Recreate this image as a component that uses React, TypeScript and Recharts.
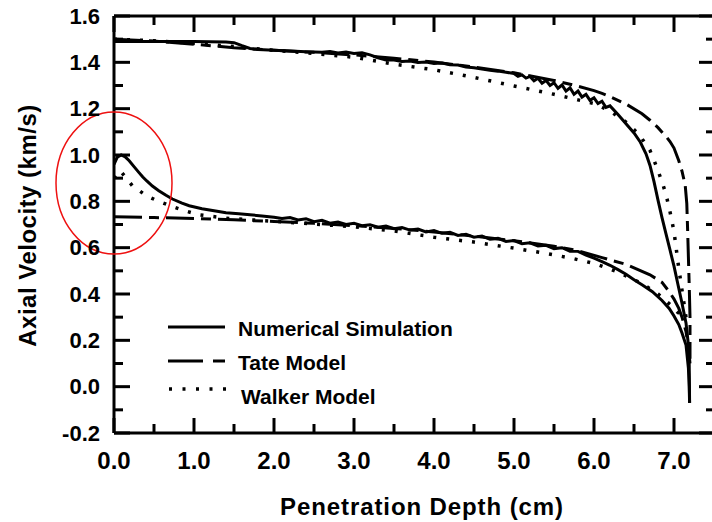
import React from 'react';
import { LineChart, Line, XAxis, YAxis, Legend, ReferenceDot, ReferenceLine } from 'recharts';

const FONT = '"Liberation Sans", Arial, Helvetica, sans-serif';

// ---- data: [penetration depth (cm), axial velocity (km/s)] ----
const simUpper: [number, number][] = [
  [0, 1.49], [0.5, 1.49], [1.0, 1.49], [1.4, 1.488], [1.5, 1.485], [1.6, 1.472], [1.7, 1.46], [1.8, 1.455],
  [2.0, 1.452], [2.2, 1.449], [2.4, 1.446], [2.6, 1.444], [2.7, 1.447], [2.8, 1.44], [2.9, 1.444], [3.0, 1.438],
  [3.1, 1.441], [3.2, 1.432], [3.3, 1.42], [3.4, 1.41], [3.5, 1.41], [3.6, 1.404], [3.7, 1.406], [3.8, 1.399],
  [3.9, 1.401], [4.0, 1.395], [4.1, 1.397], [4.2, 1.39], [4.3, 1.388], [4.4, 1.38], [4.5, 1.377], [4.6, 1.371],
  [4.7, 1.366], [4.8, 1.362], [4.9, 1.357], [5.0, 1.352], [5.05, 1.34], [5.1, 1.346], [5.15, 1.332], [5.2, 1.339],
  [5.25, 1.32], [5.3, 1.331], [5.35, 1.31], [5.4, 1.322], [5.45, 1.3], [5.5, 1.312], [5.55, 1.288], [5.6, 1.302],
  [5.65, 1.276], [5.7, 1.29], [5.75, 1.262], [5.8, 1.276], [5.85, 1.25], [5.9, 1.262], [5.95, 1.236], [6.0, 1.247],
  [6.05, 1.222], [6.1, 1.232], [6.15, 1.205], [6.2, 1.212], [6.3, 1.175], [6.4, 1.135], [6.5, 1.095], [6.58, 1.055],
  [6.65, 1.005], [6.7, 0.955], [6.75, 0.885], [6.8, 0.805], [6.85, 0.73], [6.9, 0.66], [6.95, 0.59], [7.0, 0.52],
  [7.05, 0.44], [7.1, 0.36], [7.15, 0.275], [7.18, 0.18], [7.19, 0.1], [7.195, -0.07],
];

const simLower: [number, number][] = [
  [0, 0.96], [0.04, 0.99], [0.09, 1.0], [0.14, 0.992], [0.19, 0.975], [0.25, 0.95], [0.31, 0.925], [0.36, 0.905],
  [0.41, 0.888], [0.48, 0.866], [0.56, 0.846], [0.65, 0.826], [0.73, 0.81], [0.85, 0.792], [0.94, 0.781], [1.1, 0.768],
  [1.27, 0.758], [1.4, 0.751], [1.56, 0.746], [1.7, 0.742], [1.85, 0.737], [2.0, 0.731], [2.1, 0.726], [2.2, 0.73],
  [2.3, 0.72], [2.4, 0.725], [2.5, 0.712], [2.6, 0.718], [2.7, 0.706], [2.8, 0.711], [2.9, 0.7], [3.0, 0.705],
  [3.1, 0.695], [3.2, 0.699], [3.3, 0.688], [3.4, 0.693], [3.5, 0.682], [3.6, 0.687], [3.7, 0.676], [3.8, 0.68],
  [3.9, 0.668], [4.0, 0.674], [4.1, 0.662], [4.2, 0.666], [4.3, 0.653], [4.4, 0.658], [4.5, 0.645], [4.6, 0.65],
  [4.7, 0.636], [4.8, 0.64], [4.9, 0.627], [5.0, 0.631], [5.1, 0.617], [5.2, 0.621], [5.3, 0.607], [5.4, 0.61],
  [5.5, 0.596], [5.6, 0.6], [5.7, 0.585], [5.8, 0.584], [5.9, 0.568], [6.0, 0.555], [6.1, 0.54], [6.2, 0.524],
  [6.3, 0.505], [6.4, 0.485], [6.5, 0.462], [6.6, 0.44], [6.73, 0.41], [6.85, 0.372], [6.94, 0.338], [7.0, 0.305],
  [7.06, 0.268], [7.1, 0.232], [7.15, 0.18], [7.18, 0.08], [7.19, 0.0], [7.195, -0.07],
];

const tateUpper: [number, number][] = [
  [0, 1.5], [0.5, 1.492], [1.0, 1.478], [1.5, 1.463], [2.0, 1.452], [2.5, 1.443], [3.0, 1.432], [3.5, 1.418],
  [4.0, 1.401], [4.5, 1.38], [5.0, 1.355], [5.5, 1.322], [5.8, 1.297], [6.0, 1.278], [6.1, 1.266], [6.2, 1.252],
  [6.4, 1.22], [6.6, 1.178], [6.7, 1.15], [6.8, 1.118], [6.9, 1.08], [6.95, 1.058], [7.0, 1.03], [7.06, 0.975],
  [7.1, 0.93], [7.14, 0.87], [7.16, 0.79], [7.17, 0.68], [7.18, 0.56], [7.19, 0.44], [7.2, 0.3], [7.2, 0.12],
];

const tateLower: [number, number][] = [
  [0, 0.733], [0.5, 0.73], [1.0, 0.726], [1.5, 0.72], [2.0, 0.713], [2.5, 0.705], [3.0, 0.695], [3.5, 0.683],
  [4.0, 0.668], [4.5, 0.65], [5.0, 0.63], [5.5, 0.606], [5.8, 0.587], [6.1, 0.557], [6.4, 0.528], [6.7, 0.483],
  [6.85, 0.45], [6.94, 0.41], [7.0, 0.378], [7.06, 0.338], [7.1, 0.3], [7.15, 0.238], [7.18, 0.17], [7.2, 0.1],
];

const walkerUpper: [number, number][] = [
  [0, 1.5], [0.5, 1.493], [1.0, 1.482], [1.5, 1.468], [2.0, 1.452], [2.5, 1.438], [3.0, 1.422], [3.5, 1.392],
  [4.0, 1.368], [4.5, 1.335], [5.0, 1.298], [5.5, 1.262], [5.8, 1.238], [6.0, 1.222], [6.2, 1.19], [6.4, 1.142],
  [6.56, 1.09], [6.7, 1.02], [6.77, 0.96], [6.85, 0.885], [6.9, 0.83], [6.95, 0.755], [7.0, 0.67], [7.06, 0.51],
  [7.12, 0.37], [7.15, 0.3],
];

const walkerLower: [number, number][] = [
  [0, 0.9], [0.04, 0.93], [0.1, 0.923], [0.23, 0.867], [0.41, 0.823], [0.56, 0.8], [0.75, 0.775], [0.9, 0.758],
  [1.06, 0.742], [1.44, 0.726], [2.0, 0.714], [2.5, 0.702], [3.0, 0.69], [3.5, 0.672], [4.0, 0.645], [4.5, 0.624],
  [5.0, 0.598], [5.35, 0.578], [5.7, 0.556], [6.0, 0.532], [6.3, 0.495], [6.6, 0.445], [6.8, 0.4], [6.95, 0.355],
  [7.05, 0.32], [7.15, 0.3],
];

// ---- axes ----
const xMajorTicks = [0, 1, 2, 3, 4, 5, 6, 7];
const xMinorTicks = [0.5, 1.5, 2.5, 3.5, 4.5, 5.5, 6.5];
const yMajorTicks = [-0.2, 0, 0.2, 0.4, 0.6, 0.8, 1.0, 1.2, 1.4, 1.6];
const yMinorTicks = [-0.1, 0.1, 0.3, 0.5, 0.7, 0.9, 1.1, 1.3, 1.5];
const xDomain: [number, number] = [0, 7.5];
const yDomain: [number, number] = [-0.2, 1.6];

const xTitle = 'Penetration Depth (cm)';
const yTitle = 'Axial Velocity (km/s)';

const legendItems = [
  { label: 'Numerical Simulation', kind: 'solid' },
  { label: 'Tate Model', kind: 'dash' },
  { label: 'Walker Model', kind: 'dot' },
];

// circled annotation region centre
const circleCenter = { x: 0, y: 0.879 };

const toPts = (arr: [number, number][]) => arr.map(([x, v]) => ({ x, v }));

const DASH = '28 7 10 7';
const DOTS = '3 10';

const fmt = (v: number) => (Math.abs(v) < 1e-9 ? 0 : v).toFixed(1);

const XTitle = (props: any) => {
  const vb = props.viewBox || { x: 114, y: 433, width: 600, height: 89 };
  return (
    <text x={vb.x + vb.width / 2 + 8} y={vb.y + 82} textAnchor="middle" fill="#000"
      style={{ fontFamily: FONT, fontWeight: 700, fontSize: 24, letterSpacing: 0.9 }}>
      {xTitle}
    </text>
  );
};

const YTitle = (props: any) => {
  const vb = props.viewBox || { x: 0, y: 16, width: 114, height: 417 };
  const cx = 27;
  const cy = vb.y + vb.height / 2 + 1;
  return (
    <text x={cx} y={cy} textAnchor="middle" dominantBaseline="central" fill="#000"
      transform={`rotate(-90, ${cx}, ${cy})`}
      style={{ fontFamily: FONT, fontWeight: 700, fontSize: 24, letterSpacing: 0.5 }}>
      {yTitle}
    </text>
  );
};

// tick mark shape drawn from an anchor point (cx, cy) on the frame, pointing inward
const TickMark = (props: any) => {
  const { cx, cy, dx = 0, dy = 0 } = props;
  if (cx == null || cy == null || isNaN(cx) || isNaN(cy)) return null;
  return <path d={`M${cx},${cy}L${cx + dx},${cy + dy}`} stroke="#000" strokeWidth={3} fill="none" />;
};

const LegendContent = () => (
  <svg width={330} height={110} style={{ display: 'block', overflow: 'visible' }}>
    {legendItems.map((it, i) => {
      const cy = 23 + i * 34;
      return (
        <g key={it.label}>
          {it.kind === 'solid' && <line x1={8} x2={65} y1={cy - 1} y2={cy - 1} stroke="#000" strokeWidth={3} />}
          {it.kind === 'dash' && (
            <g>
              <line x1={8} x2={43} y1={cy - 1} y2={cy - 1} stroke="#000" strokeWidth={3} />
              <line x1={53} x2={65} y1={cy - 1} y2={cy - 1} stroke="#000" strokeWidth={3} />
            </g>
          )}
          {it.kind === 'dot' && (
            <line x1={9} x2={66} y1={cy - 7} y2={cy - 7} stroke="#000" strokeWidth={3.5} strokeDasharray="3 10.5" />
          )}
          <text x={it.kind === 'dot' ? 81 : 78} y={cy} dominantBaseline="central" fill="#000"
            style={{ fontFamily: FONT, fontWeight: 700, fontSize: 21 }}>
            {it.label}
          </text>
        </g>
      );
    })}
  </svg>
);

const RedEllipse = (props: any) => {
  const { cx, cy } = props;
  if (cx == null || cy == null) return null;
  return <ellipse cx={cx} cy={cy} rx={58} ry={71} fill="none" stroke="#ee1111" strokeWidth={1.5} />;
};

const tickStyleX = { fill: '#000', fontSize: 24, fontWeight: 700, fontFamily: FONT };
const tickStyleY = { fill: '#000', fontSize: 22, fontWeight: 700, fontFamily: FONT };
const axisLine = { stroke: '#000', strokeWidth: 3 };
const RD = { xAxisId: 'x', yAxisId: 'y', ifOverflow: 'visible' as const, r: 1 };

export default function App() {
  const [y0, y1] = yDomain;
  const [x0, x1] = xDomain;
  return (
    <div style={{ position: 'absolute', left: 0, top: 0, width: 712, height: 522, overflow: 'hidden', background: '#fff' }}>
      <LineChart width={730} height={522} margin={{ top: 16, right: 16, bottom: 0, left: 0 }}>
        <XAxis xAxisId="x" type="number" dataKey="x" domain={xDomain} ticks={xMajorTicks} interval={0}
          allowDataOverflow tickFormatter={fmt} tickLine={false} stroke="#000"
          axisLine={axisLine} height={89} tickMargin={13} tick={tickStyleX} label={<XTitle />} />
        <YAxis yAxisId="y" type="number" dataKey="v" domain={yDomain} ticks={yMajorTicks} interval={0}
          allowDataOverflow tickFormatter={fmt} tickLine={false} stroke="#000"
          axisLine={axisLine} width={114} tickMargin={8} tick={tickStyleY} label={<YTitle />} />

        {/* frame */}
        <ReferenceLine xAxisId="x" yAxisId="y" ifOverflow="visible" stroke="#000" strokeWidth={3}
          segment={[{ x: x0, y: y1 }, { x: x1, y: y1 }]} />
        <ReferenceLine xAxisId="x" yAxisId="y" ifOverflow="visible" stroke="#000" strokeWidth={3}
          segment={[{ x: x1, y: y0 }, { x: x1, y: y1 }]} />

        <Line xAxisId="x" yAxisId="y" data={toPts(tateUpper)} dataKey="v" type="linear" dot={false}
          stroke="#000" strokeWidth={3} strokeDasharray={DASH} isAnimationActive={false} legendType="none" />
        <Line xAxisId="x" yAxisId="y" data={toPts(tateLower)} dataKey="v" type="linear" dot={false}
          stroke="#000" strokeWidth={3} strokeDasharray={DASH} isAnimationActive={false} legendType="none" />
        <Line xAxisId="x" yAxisId="y" data={toPts(walkerUpper)} dataKey="v" type="linear" dot={false}
          stroke="#000" strokeWidth={3.5} strokeDasharray={DOTS} isAnimationActive={false} legendType="none" />
        <Line xAxisId="x" yAxisId="y" data={toPts(walkerLower)} dataKey="v" type="linear" dot={false}
          stroke="#000" strokeWidth={3.5} strokeDasharray={DOTS} isAnimationActive={false} legendType="none" />
        <Line xAxisId="x" yAxisId="y" data={toPts(simUpper)} dataKey="v" type="linear" dot={false}
          stroke="#000" strokeWidth={3} isAnimationActive={false} legendType="none" />
        <Line xAxisId="x" yAxisId="y" data={toPts(simLower)} dataKey="v" type="linear" dot={false}
          stroke="#000" strokeWidth={3} isAnimationActive={false} legendType="none" />

        {/* inward tick marks, anchored on the frame through the axis scales */}
        {xMajorTicks.map((t) => (
          <ReferenceDot key={`xbM${t}`} {...RD} x={t} y={y0} shape={<TickMark dy={-15} />} />
        ))}
        {xMinorTicks.map((t) => (
          <ReferenceDot key={`xbm${t}`} {...RD} x={t} y={y0} shape={<TickMark dy={-9} />} />
        ))}
        {xMajorTicks.map((t) => (
          <ReferenceDot key={`xtM${t}`} {...RD} x={t} y={y1} shape={<TickMark dy={16} />} />
        ))}
        {xMinorTicks.map((t) => (
          <ReferenceDot key={`xtm${t}`} {...RD} x={t} y={y1} shape={<TickMark dy={9} />} />
        ))}
        {yMajorTicks.map((t) => (
          <ReferenceDot key={`ylM${t}`} {...RD} x={x0} y={t} shape={<TickMark dx={16} />} />
        ))}
        {yMinorTicks.map((t) => (
          <ReferenceDot key={`ylm${t}`} {...RD} x={x0} y={t} shape={<TickMark dx={9} />} />
        ))}
        {yMajorTicks.map((t) => (
          <ReferenceDot key={`yrM${t}`} {...RD} x={x1} y={t} shape={<TickMark dx={-15} />} />
        ))}
        {yMinorTicks.map((t) => (
          <ReferenceDot key={`yrm${t}`} {...RD} x={x1} y={t} shape={<TickMark dx={-8} />} />
        ))}

        <ReferenceDot xAxisId="x" yAxisId="y" x={circleCenter.x} y={circleCenter.y} ifOverflow="visible"
          shape={<RedEllipse />} />

        <Legend layout="horizontal" verticalAlign="middle" align="center" content={<LegendContent />}
          wrapperStyle={{ left: 160, top: 305, width: 330, height: 110 }} />
      </LineChart>
    </div>
  );
}
